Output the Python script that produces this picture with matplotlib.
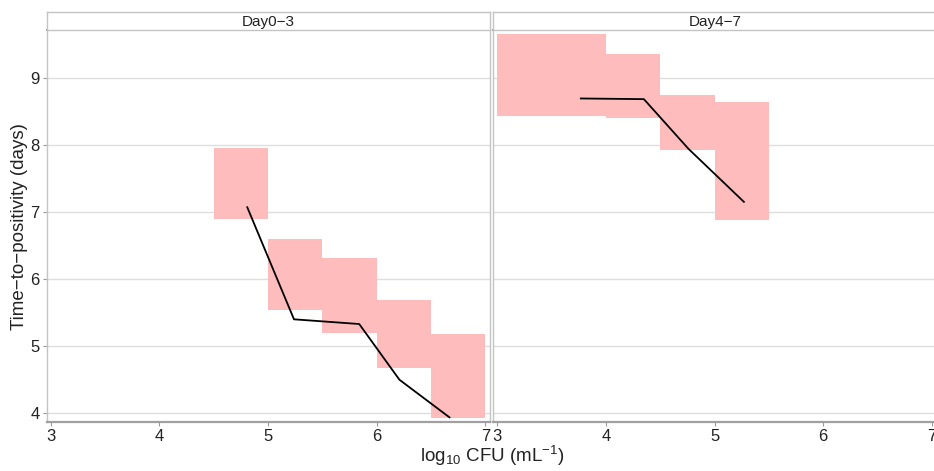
import matplotlib
matplotlib.use('Agg')
import matplotlib.pyplot as plt
from matplotlib.patches import Rectangle

plt.rcParams['font.family'] = ['Liberation Sans', 'DejaVu Sans']
plt.rcParams['mathtext.fontset'] = 'custom'
plt.rcParams['mathtext.rm'] = 'Liberation Sans'
plt.rcParams['mathtext.it'] = 'Liberation Sans:italic'
plt.rcParams['mathtext.default'] = 'regular'

# panel names
panels = ['Day0\u22123', 'Day4\u22127']

# shaded bins: x start, x end, y low, y high
bin_x0 = [[4.5, 5.0, 5.5, 6.0, 6.5], [3.0, 4.0, 4.5, 5.0]]
bin_x1 = [[5.0, 5.5, 6.0, 6.5, 7.0], [4.0, 4.5, 5.0, 5.5]]
bin_lo = [[6.89, 5.54, 5.20, 4.68, 3.93], [8.43, 8.40, 7.92, 6.88]]
bin_hi = [[7.95, 6.60, 6.32, 5.69, 5.18], [9.65, 9.35, 8.74, 8.64]]

# fitted line
line_x = [[4.81, 5.24, 5.84, 6.21, 6.67], [3.77, 4.35, 4.76, 5.27]]
line_y = [[7.07, 5.40, 5.33, 4.50, 3.94], [8.69, 8.68, 7.94, 7.15]]

xticks = [3, 4, 5, 6, 7]
yticks = [4, 5, 6, 7, 8, 9]

fig = plt.figure(figsize=(9.34, 4.71), dpi=100, facecolor='white')

lefts = [0.050, 0.5282]
w, b, h = 0.4746, 0.1047, 0.8316

for i in range(2):
    ax = fig.add_axes([lefts[i], b, w, h])
    for x0, x1, lo, hi in zip(bin_x0[i], bin_x1[i], bin_lo[i], bin_hi[i]):
        ax.add_patch(Rectangle((x0, lo), x1 - x0, hi - lo, facecolor='#ffbcbd',
                               edgecolor='none', zorder=2))
    ax.plot(line_x[i], line_y[i], color='black', lw=1.3, zorder=3)

    ax.set_xlim(2.965, 7.043)
    ax.set_ylim(3.875, 9.71)
    ax.set_xticks(xticks)
    ax.set_yticks(yticks)
    ax.grid(axis='y', color='#dedede', lw=1.0, zorder=1)
    ax.set_axisbelow(True)
    ax.tick_params(axis='both', labelsize=12, length=3, color='#999999',
                   pad=2, labelcolor='#222222')
    if i == 1:
        ax.tick_params(axis='y', labelleft=False, length=0)
    for s in ['left', 'right', 'top']:
        ax.spines[s].set_color('#c4c4c4')
        ax.spines[s].set_linewidth(1.0)
    ax.spines['bottom'].set_color('#a0a0a0')
    ax.spines['bottom'].set_linewidth(1.6)
    ax.spines['top'].set_color('#888888')
    ax.spines['top'].set_linewidth(1.3)

    # strip
    sax = fig.add_axes([lefts[i], 0.9363, w, 0.0382])
    sax.set_xticks([])
    sax.set_yticks([])
    for s in sax.spines.values():
        s.set_color('#c4c4c4')
        s.set_linewidth(1.0)
    sax.text(0.5, 0.45, panels[i], ha='center', va='center', fontsize=11,
             color='#222222', transform=sax.transAxes)

fig.text(0.012, 0.52, 'Time\u2212to\u2212positivity (days)', rotation=90,
         ha='left', va='center', fontsize=13.5, color='#222222')
fig.text(0.527, 0.006, r'log$_{10}$ CFU (mL$^{-1}$)', ha='center', va='bottom',
         fontsize=13.5, color='#222222')

fig.savefig('out.png', dpi=100, facecolor='white')
